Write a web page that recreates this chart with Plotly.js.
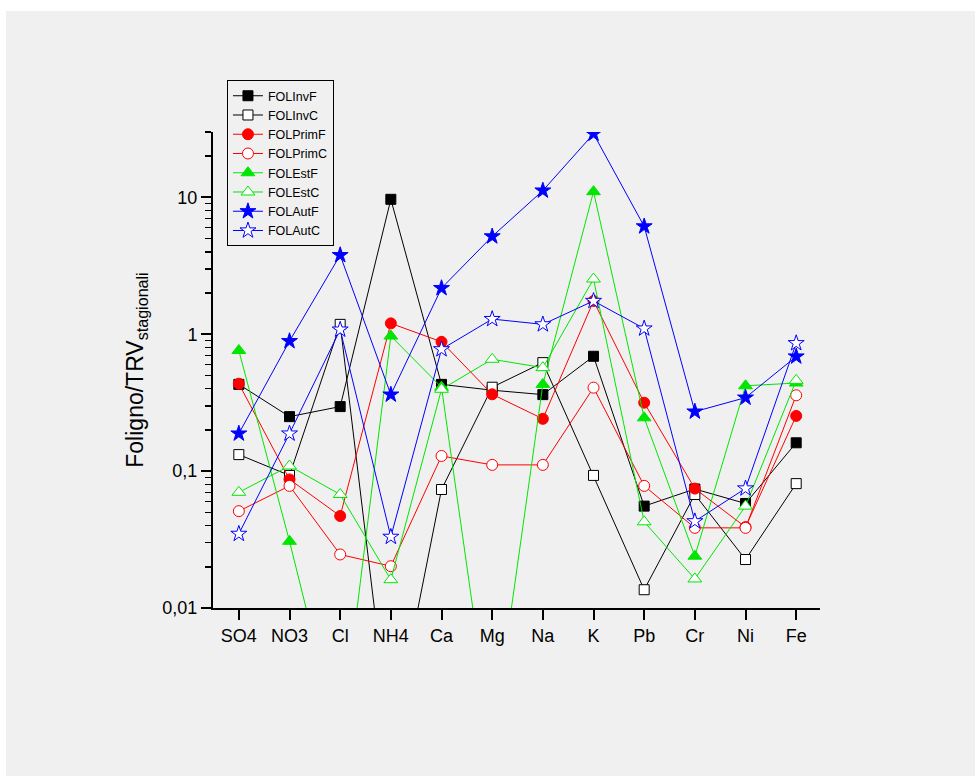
<!DOCTYPE html>
<html>
<head>
<meta charset="utf-8">
<script src="https://cdn.plot.ly/plotly-3.0.1.min.js"></script>
<style>
  html, body { margin: 0; padding: 0; background: #ffffff; }
  #chart { position: absolute; left: 6px; top: 11px; width: 969px; height: 765px; }
</style>
</head>
<body>
<div id="chart"></div>
<script>
// Categories (x axis)
const categories = ["SO4", "NO3", "Cl", "NH4", "Ca", "Mg", "Na", "K", "Pb", "Cr", "Ni", "Fe"];

// Series values (Foligno / TRV stagionali)
const FOLInvF   = [0.43, 0.25, 0.296, 9.67, 0.43, 0.39, 0.362, 0.69, 0.0555, 0.074, 0.058, 0.161];
const FOLInvC   = [0.132, 0.093, 1.18, 0.001, 0.0734, 0.41, 0.62, 0.093, 0.0136, 0.0675, 0.0226, 0.081];
const FOLPrimF  = [0.435, 0.087, 0.047, 1.20, 0.88, 0.364, 0.241, 1.75, 0.316, 0.0745, 0.039, 0.253];
const FOLPrimC  = [0.051, 0.078, 0.0246, 0.0202, 0.129, 0.111, 0.111, 0.407, 0.078, 0.0385, 0.0385, 0.358];
const FOLEstF   = [0.76, 0.0307, 0.001, 0.97, 0.41, 0.001, 0.43, 11.0, 0.245, 0.0239, 0.42, 0.44];
const FOLEstC   = [0.070, 0.109, 0.0675, 0.0161, 0.396, 0.656, 0.57, 2.53, 0.0426, 0.0163, 0.0555, 0.46];
const FOLAutF   = [0.188, 0.89, 3.78, 0.362, 2.17, 5.18, 11.2, 29.1, 6.13, 0.272, 0.344, 0.687];
const FOLAutC   = [0.0348, 0.188, 1.08, 0.0331, 0.776, 1.29, 1.18, 1.75, 1.10, 0.043, 0.0747, 0.86];

// Y tick labels
const yTickVals = [0.01, 0.1, 1, 10];
const yTickText = ["0,01", "0,1", "1", "10"];
const yMinorTickVals = [0.02, 0.03, 0.04, 0.05, 0.06, 0.07, 0.08, 0.09,
                        0.2, 0.3, 0.4, 0.5, 0.6, 0.7, 0.8, 0.9,
                        2, 3, 4, 5, 6, 7, 8, 9,
                        20, 30];

function mk(name, values, color, symbol, filled, size) {
  return {
    type: "scatter",
    mode: "lines+markers",
    name: name,
    x: categories,
    y: values,
    cliponaxis: true,
    line: { color: color, width: 1 },
    marker: {
      symbol: symbol,
      size: size,
      color: filled ? color : "#ffffff",
      line: { color: color, width: 1 }
    }
  };
}

const traces = [
  mk("FOLInvF",  FOLInvF,  "#000000", "square", true, 10),
  mk("FOLInvC",  FOLInvC,  "#000000", "square", false, 10),
  mk("FOLPrimF", FOLPrimF, "#ff0000", "circle", true, 11),
  mk("FOLPrimC", FOLPrimC, "#ff0000", "circle", false, 11),
  mk("FOLEstF",  FOLEstF,  "#00e600", "triangle-up", true, 12),
  mk("FOLEstC",  FOLEstC,  "#00e600", "triangle-up", false, 12),
  mk("FOLAutF",  FOLAutF,  "#0000ff", "star", true, 12),
  mk("FOLAutC",  FOLAutC,  "#0000ff", "star", false, 12)
];

const font = "Liberation Sans, Arial, sans-serif";

const layout = {
  width: 969,
  height: 765,
  margin: { l: 207, r: 155, t: 121, b: 168 },
  paper_bgcolor: "#f0f0f0",
  plot_bgcolor: "#f0f0f0",
  font: { family: font, color: "#000000", size: 18 },
  showlegend: true,
  legend: {
    x: 0.023, y: 1.109, xanchor: "left", yanchor: "top",
    bgcolor: "#f0f0f0",
    bordercolor: "#000000",
    borderwidth: 1,
    font: { family: font, size: 12.5, color: "#000000" },
    tracegroupgap: 0,
    itemwidth: 30
  },
  xaxis: {
    type: "category",
    range: [-0.51, 11.47],
    showline: true,
    linecolor: "#000000",
    linewidth: 2,
    ticks: "outside",
    ticklen: 10,
    tickwidth: 2,
    tickcolor: "#000000",
    showgrid: false,
    zeroline: false,
    tickfont: { family: font, size: 18, color: "#000000" }
  },
  yaxis: {
    type: "log",
    range: [-2, Math.log10(30)],
    showline: true,
    linecolor: "#000000",
    linewidth: 2,
    ticks: "outside",
    ticklen: 10,
    tickwidth: 2,
    tickcolor: "#000000",
    tickmode: "array",
    tickvals: yTickVals,
    ticktext: yTickText,
    showgrid: false,
    zeroline: false,
    tickfont: { family: font, size: 18, color: "#000000" },
    minor: {
      tickmode: "array",
      tickvals: yMinorTickVals,
      ticks: "outside", ticklen: 6, tickwidth: 1.5, tickcolor: "#000000", showgrid: false
    },
    title: {
      text: "Foligno/TRV<sub>stagionali</sub>",
      font: { family: font, size: 23, color: "#000000" },
      standoff: 12
    }
  }
};

Plotly.newPlot("chart", traces, layout, { displayModeBar: false, staticPlot: true });
</script>
</body>
</html>
